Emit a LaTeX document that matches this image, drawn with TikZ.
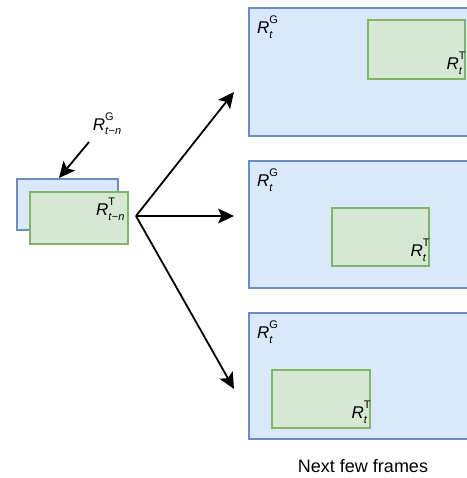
\documentclass[tikz,border=0pt]{standalone}
\usepackage{fontspec}
\setmainfont{Liberation Sans}
\usetikzlibrary{arrows.meta}
\definecolor{bfill}{HTML}{DAE8FC}
\definecolor{bdraw}{HTML}{6C8EBF}
\definecolor{gfill}{HTML}{D5E8D4}
\definecolor{gdraw}{HTML}{82B366}
\newcommand\rlab[2]{\textit{R}\rlap{\raisebox{1.05ex}{\fontsize{11}{11}\selectfont #1}}\raisebox{-0.55ex}{\fontsize{11}{11}\selectfont #2}}
\begin{document}
\begin{tikzpicture}[x=1pt,y=-1pt,
  bluebox/.style={draw=bdraw,fill=bfill,line width=1.6pt},
  greenbox/.style={draw=gdraw,fill=gfill,line width=1.6pt},
  arr/.style={line width=1.8pt,-{Stealth[length=16pt,width=15pt,inset=3.5pt]}},
  lab/.style={font=\fontsize{17}{19}\selectfont,inner sep=0pt}]
\useasboundingbox (0,0) rectangle (466,478);
% left
\node[bluebox,minimum width=101pt,minimum height=51pt,anchor=north west] (lb) at (16,178) {};
\node[greenbox,minimum width=98pt,minimum height=52pt,anchor=north west] (lg) at (29,191) {};
\node[lab,anchor=north east] (lgl) at ([xshift=-4pt,yshift=-7pt]lg.north east) {\rlab{T}{\textit{t}−\textit{n}}};
\node[lab] (lgt) at (107,124) {\rlab{G}{\textit{t}−\textit{n}}};
\coordinate (as) at (89,142);
\draw[arr] (as) -- (lb.north west -| 59,0);
% big frames
\node[bluebox,minimum width=232pt,minimum height=128pt,anchor=north west] (b1) at (248,7) {};
\node[bluebox,minimum width=232pt,minimum height=127pt,anchor=north west] (b2) at (248,160) {};
\node[bluebox,minimum width=232pt,minimum height=126pt,anchor=north west] (b3) at (248,312) {};
\node[greenbox,minimum width=97pt,minimum height=59pt,anchor=north west] (g1) at (367,19) {};
\node[greenbox,minimum width=97pt,minimum height=58pt,anchor=north west] (g2) at (331,207) {};
\node[greenbox,minimum width=98pt,minimum height=58pt,anchor=north west] (g3) at (271,369) {};
\foreach \i in {1,2,3}{
  \node[lab,anchor=north west] (bl\i) at ([xshift=9pt,yshift=-9pt]b\i.north west) {\rlab{G}{\textit{t}}};
  \node[lab,anchor=south east] (gl\i) at ([xshift=-3pt,yshift=5pt]g\i.south east) {\rlab{T}{\textit{t}}};
}
\coordinate (src) at (136,216);
\coordinate (e1) at (234,92);
\coordinate (e2) at (234,216);
\coordinate (e3) at (234,389);
\draw[arr] (src) -- (e1);
\draw[arr] (src) -- (e2);
\draw[arr] (src) -- (e3);
\node[font=\fontsize{18}{20}\selectfont,inner sep=0pt] (cap) at (363,466) {Next few frames};
\end{tikzpicture}
\end{document}
